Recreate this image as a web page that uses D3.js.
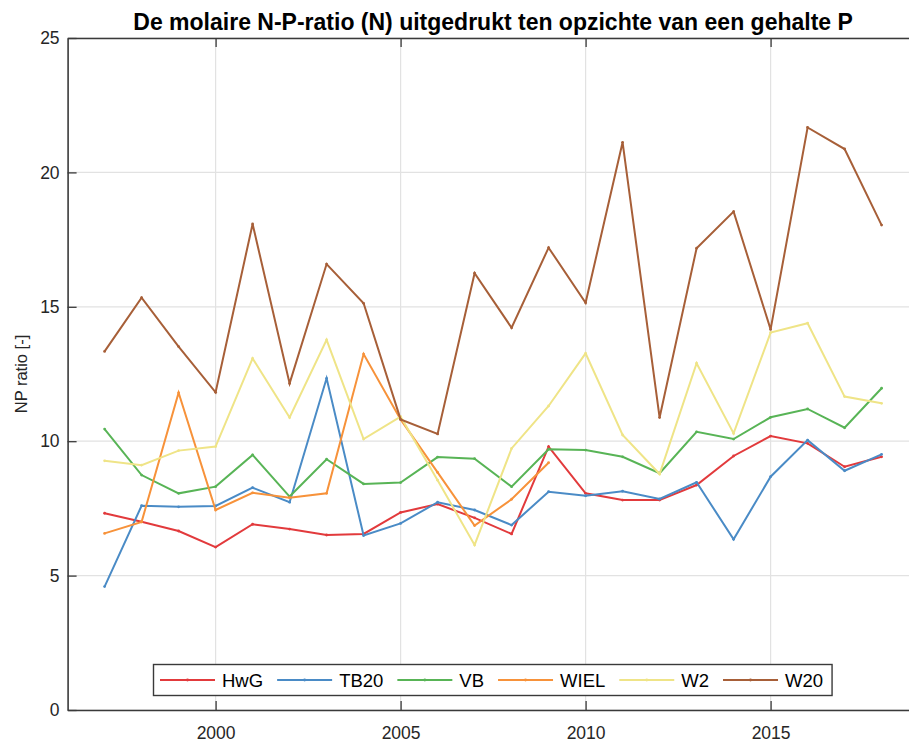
<!DOCTYPE html>
<html>
<head>
<meta charset="utf-8">
<script src="https://cdn.jsdelivr.net/npm/d3@7"></script>
<style>
  html, body { margin: 0; padding: 0; background: #fff; }
  svg { display: block; font-family: "Liberation Sans", Arial, Helvetica, sans-serif; }
</style>
</head>
<body>
<svg id="chart" width="909" height="743"></svg>
<script>
// Measurement years
const years = d3.range(1997, 2019);

// Molar N:P ratio per location
const seriesNames = ["HwG", "TB20", "VB", "WIEL", "W2", "W20"];
const HwG  = [7.32, 7.00, 6.66, 6.06, 6.91, 6.73, 6.51, 6.55, 7.35, 7.66, 7.15, 6.55, 9.80, 8.06, 7.81, 7.81, 8.37, 9.45, 10.19, 9.92, 9.05, 9.42];
const TB20 = [4.59, 7.60, 7.56, 7.59, 8.27, 7.73, 12.34, 6.49, 6.94, 7.73, 7.44, 6.88, 8.12, 7.97, 8.14, 7.85, 8.47, 6.35, 8.68, 10.04, 8.90, 9.51];
const VB   = [10.45, 8.74, 8.06, 8.31, 9.49, 7.94, 9.33, 8.41, 8.46, 9.41, 9.35, 8.31, 9.70, 9.67, 9.42, 8.81, 10.35, 10.08, 10.89, 11.20, 10.50, 11.97];
const WIEL = [6.57, 7.00, 11.80, 7.44, 8.08, 7.90, 8.06, 13.24, 10.81, 8.84, 6.86, 7.84, 9.20, null, null, null, null, null, null, null, null, null];
const W2   = [9.27, 9.11, 9.65, 9.80, 13.08, 10.88, 13.77, 10.08, 10.91, 8.55, 6.14, 9.73, 11.31, 13.27, 10.23, 8.78, 12.90, 10.29, 14.04, 14.39, 11.66, 11.41];
const W20  = [13.34, 15.34, 13.52, 11.82, 18.08, 12.15, 16.59, 15.13, 10.81, 10.27, 16.25, 14.22, 17.20, 15.15, 21.12, 10.88, 17.18, 18.54, 14.16, 21.67, 20.87, 18.04];

const xTicks = [2000, 2005, 2010, 2015];
const yTicks = [0, 5, 10, 15, 20, 25];

const titleText = "De molaire N-P-ratio (N) uitgedrukt ten opzichte van een gehalte P";
const yLabelText = "NP ratio [-]";

const colors = ["#e23a3c", "#4a8bc6", "#58b456", "#f7923a", "#efe487", "#a75f38"];

const seriesValues = [HwG, TB20, VB, WIEL, W2, W20];
const series = seriesNames.map((name, i) => ({
  name,
  color: colors[i],
  points: years.map((yr, j) => ({ year: yr, value: seriesValues[i][j] }))
}));

const svg = d3.select("#chart");
const mLeft = 67.6, mTop = 38, plotH = 672;
const mRight = mLeft + 23 * 37; // axis box runs to 2019

const x = d3.scaleLinear().domain([1996, 2019]).range([mLeft, mRight]);
const y = d3.scaleLinear().domain([0, 25]).range([mTop + plotH, mTop]);

const axisColor = "#3a3a3a";
const textColor = "#262626";
const tickLen = 9;

// Grid
const grid = svg.append("g");
grid.selectAll("line.gx").data(xTicks).join("line")
  .attr("class", "gx")
  .attr("x1", d => x(d)).attr("x2", d => x(d))
  .attr("y1", mTop).attr("y2", mTop + plotH)
  .attr("stroke", "#e2e2e2").attr("stroke-width", 1.2);
grid.selectAll("line.gy").data(yTicks).join("line")
  .attr("class", "gy")
  .attr("x1", mLeft).attr("x2", mRight)
  .attr("y1", d => y(d)).attr("y2", d => y(d))
  .attr("stroke", "#e2e2e2").attr("stroke-width", 1.2);

// Axes (inward ticks, box on)
const xAxisB = d3.axisBottom(x).tickValues(xTicks).tickSizeInner(-tickLen).tickSizeOuter(0).tickPadding(17).tickFormat(d3.format("d"));
const xAxisT = d3.axisTop(x).tickValues(xTicks).tickSizeInner(-tickLen).tickSizeOuter(0).tickFormat("");
const yAxisL = d3.axisLeft(y).tickValues(yTicks).tickSizeInner(-tickLen).tickSizeOuter(0).tickPadding(8);
const yAxisR = d3.axisRight(y).tickValues(yTicks).tickSizeInner(-tickLen).tickSizeOuter(0).tickFormat("");

function styleAxis(g) {
  g.select(".domain").attr("stroke", axisColor).attr("stroke-width", 1.6);
  g.selectAll(".tick line").attr("stroke", axisColor).attr("stroke-width", 1.3);
  g.selectAll(".tick text").attr("fill", textColor).attr("font-size", 17.5)
    .attr("font-family", "Liberation Sans, Arial, sans-serif");
}

svg.append("g").attr("transform", `translate(0,${mTop + plotH})`).call(xAxisB).call(styleAxis);
svg.append("g").attr("transform", `translate(0,${mTop})`).call(xAxisT).call(styleAxis);
svg.append("g").attr("transform", `translate(${mLeft},0)`).call(yAxisL).call(styleAxis);
svg.append("g").attr("transform", `translate(${mRight},0)`).call(yAxisR).call(styleAxis);

// Series lines
const line = d3.line()
  .defined(d => d.value != null)
  .x(d => x(d.year))
  .y(d => y(d.value));

const lines = svg.append("g");
series.forEach(s => {
  lines.append("path")
    .datum(s.points)
    .attr("fill", "none")
    .attr("stroke", s.color)
    .attr("stroke-width", 2)
    .attr("stroke-linejoin", "miter")
    .attr("d", line);
  lines.selectAll(null)
    .data(s.points.filter(d => d.value != null))
    .join("circle")
    .attr("cx", d => x(d.year))
    .attr("cy", d => y(d.value))
    .attr("r", 1.4)
    .attr("fill", s.color);
});

// Title
svg.append("text")
  .attr("x", (mLeft + mRight) / 2)
  .attr("y", 30)
  .attr("text-anchor", "middle")
  .attr("font-size", 23)
  .attr("font-weight", "bold")
  .attr("fill", "#000")
  .text(titleText);

// Y axis label
svg.append("text")
  .attr("transform", `translate(27,${mTop + plotH / 2}) rotate(-90)`)
  .attr("text-anchor", "middle")
  .attr("font-size", 16.5)
  .attr("fill", textColor)
  .text(yLabelText);

// Legend
const legend = svg.append("g");
const legBox = legend.append("rect")
  .attr("fill", "#fff")
  .attr("stroke", axisColor)
  .attr("stroke-width", 1.4);
let cx = 160;
const legY = 680;
series.forEach(s => {
  legend.append("line")
    .attr("x1", cx).attr("x2", cx + 55)
    .attr("y1", legY).attr("y2", legY)
    .attr("stroke", s.color).attr("stroke-width", 2);
  legend.append("circle")
    .attr("cx", cx + 27.5).attr("cy", legY).attr("r", 1.4).attr("fill", s.color);
  const t = legend.append("text")
    .attr("x", cx + 62).attr("y", legY + 6.5)
    .attr("font-size", 18.5)
    .attr("fill", "#000")
    .text(s.name);
  cx += 62 + t.node().getComputedTextLength() + 14;
});
legBox.attr("x", 153.5).attr("y", 664.5)
  .attr("width", cx - 14 + 9 - 153.5).attr("height", 31);
</script>
</body>
</html>
